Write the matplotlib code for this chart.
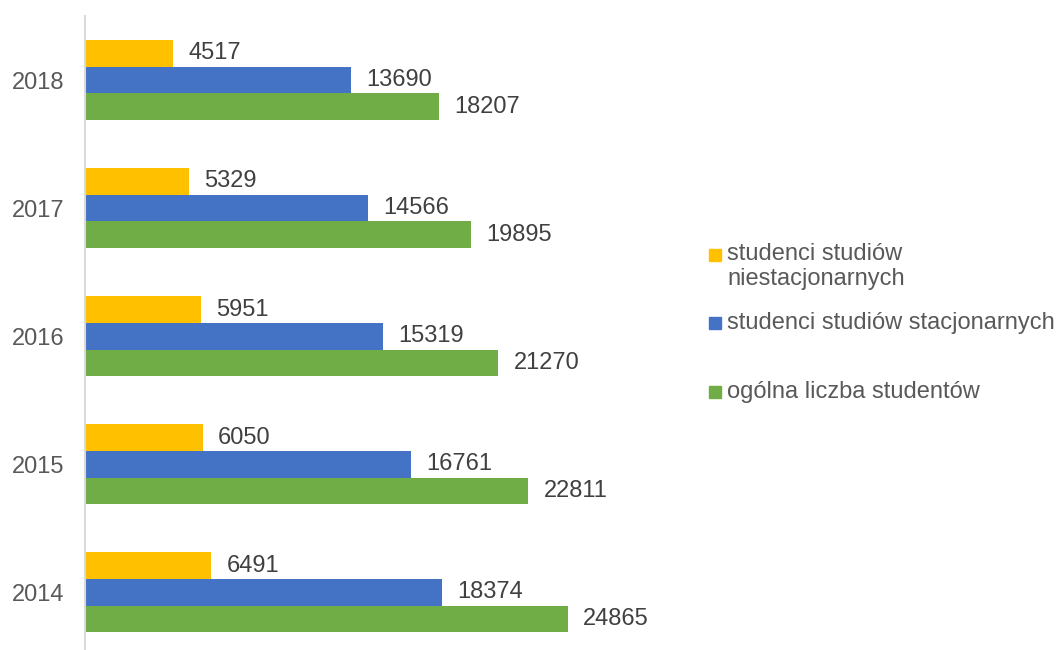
import matplotlib
matplotlib.use("Agg")
import matplotlib.pyplot as plt
from matplotlib.patches import Rectangle
import numpy as np

# data
years = ["2014", "2015", "2016", "2017", "2018"]
niestacjonarni = [6491, 6050, 5951, 5329, 4517]
stacjonarni = [18374, 16761, 15319, 14566, 13690]
ogolem = [24865, 22811, 21270, 19895, 18207]

series_names = ["studenci studiów\nniestacjonarnych",
                "studenci studiów stacjonarnych",
                "ogólna liczba studentów"]
colors = ["#FFC000", "#4472C4", "#70AD47"]

plt.rcParams["font.family"] = ["Liberation Sans", "DejaVu Sans"]

W, H = 1060, 650
fig = plt.figure(figsize=(W / 100, H / 100), dpi=100)
# axes in pixel terms: left 85, right 700, top 16, bottom 650
ax = fig.add_axes([85 / W, 0, (700 - 85) / W, (650 - 16) / H])

y = np.arange(len(years))
h = 0.208
for vals, off, c in zip([niestacjonarni, stacjonarni, ogolem], [h, 0, -h], colors):
    bars = ax.barh(y + off, vals, height=h, color=c, edgecolor="none")
    for b, v in zip(bars, vals):
        ax.annotate(str(v), (b.get_width(), b.get_y() + b.get_height() / 2),
                    xytext=(11, 0), textcoords="offset points",
                    va="center", ha="left", fontsize=17, color="#404040")

ax.set_xlim(0, (700 - 85) / 0.019425)
ax.set_ylim(-0.45, 4.5)
ax.set_yticks(y)
ax.set_yticklabels(years, fontsize=17, color="#595959")
ax.tick_params(axis="y", length=0, pad=15)
ax.set_xticks([])
for s in ["top", "right", "bottom"]:
    ax.spines[s].set_visible(False)
ax.spines["left"].set_color("#D9D9D9")
ax.spines["left"].set_linewidth(1.5)

# legend drawn by hand (Excel-style uneven spacing)
leg_y = [255, 323, 392]
for name, c, ly in zip(series_names, colors, leg_y):
    fig.patches.append(Rectangle((709 / W, 1 - (ly + 6) / H), 12 / W, 12 / H,
                                 transform=fig.transFigure, color=c))
    fig.text(727 / W, 1 - ly / H, name, fontsize=17, color="#595959",
             va="top" if "\n" in name else "center", ha="left",
             linespacing=1.15)

# first legend label: adjust so first line is centered on its square
fig.texts[0].set_y(1 - (255 - 12) / H)

fig.savefig("out.png", dpi=100)
